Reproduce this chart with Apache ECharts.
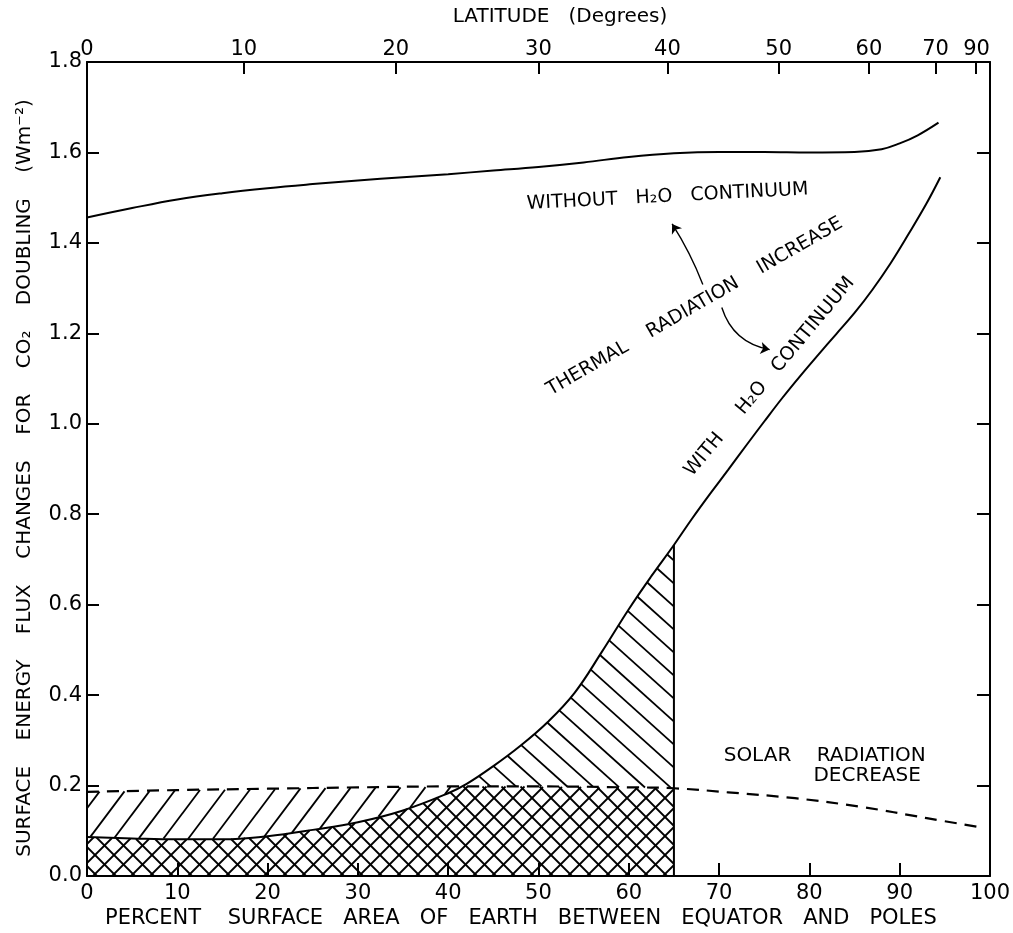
<!DOCTYPE html>
<html><head><meta charset="utf-8">
<script src="https://cdn.jsdelivr.net/npm/echarts@6/dist/echarts.min.js"></script>
<style>html,body{margin:0;padding:0;background:#fff}#c{width:1013px;height:933px}</style>
</head><body><div id="c"></div>
<script>
const FONT = 'DejaVu Sans';

// ---- data ----
const upperPct  = [0, 5, 10, 15, 20, 25, 30, 35, 40, 45, 50, 55, 60, 65, 70, 75, 80, 85, 88, 90, 92, 94.3];
const upperFlux = [1.456, 1.477, 1.496, 1.510, 1.521, 1.530, 1.538, 1.545, 1.552, 1.560, 1.568, 1.578, 1.590, 1.598, 1.601, 1.601, 1.600, 1.601, 1.607, 1.620, 1.638, 1.666];

const lowerPct  = [0, 5, 10, 15, 20, 25, 30, 35, 40, 42, 45, 48, 51, 54, 57, 60, 62.5, 65, 67, 69, 71, 73, 75, 77, 79, 81, 83, 85, 87, 89, 91, 93, 94.5];
const lowerFlux = [0.086, 0.083, 0.081, 0.081, 0.088, 0.102, 0.119, 0.145, 0.183, 0.203, 0.243, 0.288, 0.340, 0.405, 0.495, 0.590, 0.663, 0.732, 0.790, 0.845, 0.898, 0.952, 1.005, 1.057, 1.106, 1.153, 1.199, 1.245, 1.297, 1.355, 1.420, 1.488, 1.545];

const solarPct  = [0, 10, 20, 30, 40, 50, 60, 65, 71, 78.4, 85.7, 93, 98.5];
const solarFlux = [0.186, 0.190, 0.193, 0.196, 0.198, 0.198, 0.196, 0.194, 0.185, 0.172, 0.153, 0.128, 0.109];

const hatchEnd = 65;                                   // percent area where hatching stops
const latTickDeg  = [0, 10, 20, 30, 40, 50, 60, 70, 80];
const latLabelDeg = [0, 10, 20, 30, 40, 50, 60, 70, 90];

const arrowFrom = [[68.2, 1.308], [70.3, 1.257]];
const arrowTo   = [[64.8, 1.442], [75.6, 1.164]];

// ---- helpers ----
const toArea = d => 100 * Math.sin(d * Math.PI / 180);
const latTickVals = latTickDeg.map(toArea);
const latLabelVals = latLabelDeg.map(toArea);
const pairs = (xs, ys) => xs.map((x, i) => [x, ys[i]]);

function interp(xs, ys, x) {
  if (x <= xs[0]) return ys[0];
  for (let i = 1; i < xs.length; i++) {
    if (x <= xs[i]) { const t = (x - xs[i-1]) / (xs[i] - xs[i-1]); return ys[i-1] + t * (ys[i] - ys[i-1]); }
  }
  return ys[ys.length - 1];
}
const lowerAt = x => interp(lowerPct, lowerFlux, x);
const solarAt = x => interp(solarPct, solarFlux, x);
const zeroAt = () => 0;
const minAt = x => Math.min(lowerAt(x), solarAt(x));

function seg(a, b, w) {
  return { type: 'line', shape: { x1: a[0], y1: a[1], x2: b[0], y2: b[1] },
           style: { stroke: '#000', lineWidth: w || 1.8 } };
}

function hatch(api, botFn, topFn, s, step, out) {
  const X0 = api.coord([0, 0])[0], X1 = api.coord([hatchEnd, 0])[0];
  const cols = [];
  for (let px = X0; px <= X1 + 1e-6; px += 0.5) {
    const x = (px - X0) / (X1 - X0) * hatchEnd;
    cols.push([px, api.coord([x, topFn(x)])[1], api.coord([x, botFn(x)])[1]]);
  }
  let cmin = Infinity, cmax = -Infinity;
  cols.forEach(([px, yt, yb]) => {
    [yt, yb].forEach(py => { const c = py - s * px; cmin = Math.min(cmin, c); cmax = Math.max(cmax, c); });
  });
  for (let k = Math.ceil(cmin / step); k <= Math.floor(cmax / step); k++) {
    const c = k * step; let start = null, prev = null;
    for (const [px, yt, yb] of cols) {
      const py = c + s * px;
      const inside = yt < yb - 0.3 && py >= yt && py <= yb;
      if (inside) { if (!start) start = [px, py]; prev = [px, py]; }
      else if (start) { if (prev[0] > start[0]) out.push(seg(start, prev)); start = null; }
    }
    if (start && prev[0] > start[0]) out.push(seg(start, prev));
  }
}

const txt = (api, x, y, text, rotDeg, size) => {
  const p = api.coord([x, y]);
  return { type: 'text', x: p[0], y: p[1], rotation: (rotDeg || 0) * Math.PI / 180,
    style: { text, fill: '#000', font: `${size || 19}px "${FONT}"`, align: 'center', verticalAlign: 'middle' } };
};

const chart = echarts.init(document.getElementById('c'), null, { renderer: 'canvas' });
const axisLineStyle = { color: '#000', width: 2 };
const labelStyle = { color: '#000', fontFamily: FONT, fontSize: 21 };

chart.setOption({
  backgroundColor: '#fff',
  animation: false,
  grid: { left: 87, right: 16, top: 62, bottom: 57, containLabel: false },
  xAxis: [
    { type: 'value', position: 'bottom', min: 0, max: 100, interval: 10,
      axisLine: { onZero: false, lineStyle: axisLineStyle }, splitLine: { show: false },
      axisTick: { inside: true, length: 13, lineStyle: { color: '#000', width: 2 } },
      axisLabel: { ...labelStyle, margin: 7 } },
    { type: 'value', position: 'top', min: 0, max: 100,
      axisLine: { show: true, onZero: false, lineStyle: axisLineStyle }, splitLine: { show: false },
      axisTick: { show: true, inside: true, length: 12, customValues: latTickVals, lineStyle: { color: '#000', width: 2 } },
      axisLabel: { ...labelStyle, margin: 2, customValues: latLabelVals, alignMaxLabel: 'right',
        formatter: v => { let bi = 0; latLabelVals.forEach((lv, i) => { if (Math.abs(lv - v) < Math.abs(latLabelVals[bi] - v)) bi = i; }); return String(latLabelDeg[bi]); } } }
  ],
  yAxis: [
    { type: 'value', position: 'left', min: 0, max: 1.8, interval: 0.2,
      axisLine: { show: true, onZero: false, lineStyle: axisLineStyle }, splitLine: { show: false },
      axisTick: { show: true, inside: true, length: 12, lineStyle: { color: '#000', width: 2 } },
      axisLabel: { ...labelStyle, margin: 5, formatter: v => v.toFixed(1) } },
    { type: 'value', position: 'right', min: 0, max: 1.8, interval: 0.2,
      axisLine: { show: true, onZero: false, lineStyle: axisLineStyle }, splitLine: { show: false },
      axisTick: { show: true, inside: true, length: 13, lineStyle: { color: '#000', width: 2 } },
      axisLabel: { show: false } }
  ],
  graphic: [
    { type: 'text', x: 560, y: 17, style: { text: 'LATITUDE   (Degrees)', font: `20px "${FONT}"`, fill: '#000', align: 'center', verticalAlign: 'middle' } },
    { type: 'text', x: 521, y: 919, style: { text: 'PERCENT    SURFACE   AREA   OF   EARTH   BETWEEN   EQUATOR   AND   POLES', font: `21px "${FONT}"`, fill: '#000', align: 'center', verticalAlign: 'middle' } },
    { type: 'text', x: 25, y: 478, rotation: Math.PI / 2, style: { text: 'SURFACE    ENERGY    FLUX    CHANGES    FOR    CO₂    DOUBLING    (Wm⁻²)', font: `20px "${FONT}"`, fill: '#000', align: 'center', verticalAlign: 'middle' } }
  ],
  series: [
    { type: 'custom', name: 'hatching', xAxisIndex: 0, yAxisIndex: 0, silent: true, z: 1,
      data: [[0, 0]],
      renderItem: (params, api) => {
        const out = [];
        hatch(api, zeroAt, minAt, 1, 19, out);        // cross-hatch, "\" family
        hatch(api, zeroAt, minAt, -1, 19, out);       // cross-hatch, "/" family
        hatch(api, lowerAt, solarAt, -1.33, 33, out); // "/" between curve and dashed line
        hatch(api, solarAt, lowerAt, 0.9, 23, out);   // "\" above dashed line
        const a = api.coord([hatchEnd, 0]), b = api.coord([hatchEnd, lowerAt(hatchEnd)]);
        out.push(seg(a, b, 2));
        return { type: 'group', children: out };
      } },
    { type: 'line', name: 'without', data: pairs(upperPct, upperFlux), smooth: 0.4, showSymbol: false, symbol: 'none',
      lineStyle: { color: '#000', width: 2 }, z: 3 },
    { type: 'line', name: 'with', data: pairs(lowerPct, lowerFlux), smooth: 0.4, showSymbol: false, symbol: 'none',
      lineStyle: { color: '#000', width: 2 }, z: 3 },
    { type: 'line', name: 'solar', data: pairs(solarPct, solarFlux), smooth: 0.4, showSymbol: false, symbol: 'none',
      lineStyle: { color: '#000', width: 2.2, type: [12, 8] }, z: 3 },
    { type: 'lines', coordinateSystem: 'cartesian2d', xAxisIndex: 0, yAxisIndex: 0, z: 3,
      symbol: ['none', 'arrow'], symbolSize: 9,
      lineStyle: { color: '#000', width: 1.4, opacity: 1 },
      data: [
        { coords: [arrowFrom[0], arrowTo[0]], lineStyle: { curveness: -0.05 } },
        { coords: [arrowFrom[1], arrowTo[1]], lineStyle: { curveness: -0.3 } }
      ] },
    { type: 'custom', name: 'labels', xAxisIndex: 0, yAxisIndex: 0, silent: true, z: 4,
      data: [[0, 0]],
      renderItem: (params, api) => ({ type: 'group', children: [
        txt(api, 64.3, 1.502, 'WITHOUT   H₂O   CONTINUUM', 3, 19),
        txt(api, 67.3, 1.259, 'THERMAL    RADIATION    INCREASE', 30, 19),
        txt(api, 75.6, 1.104, 'WITH     H₂O   CONTINUUM', 50, 19),
        txt(api, 81.7, 0.265, 'SOLAR    RADIATION', 0, 20),
        txt(api, 86.4, 0.221, 'DECREASE', 0, 20)
      ] }) }
  ]
});
</script></body></html>
